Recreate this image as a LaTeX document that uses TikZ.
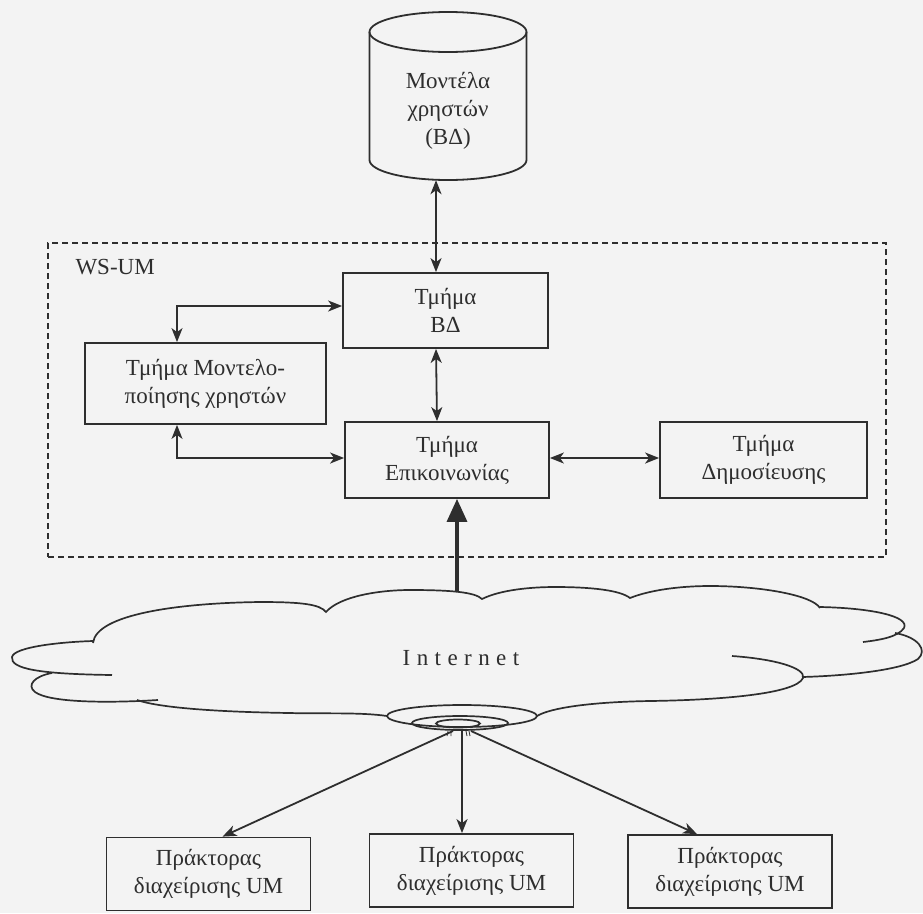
\documentclass[tikz,border=0pt]{standalone}
\usepackage{fontspec}
\setmainfont{Liberation Serif}
\usetikzlibrary{arrows.meta,calc}
\definecolor{ink}{HTML}{2E2E2E}
\definecolor{paper}{HTML}{F3F3F3}
\newcommand{\boxfont}{\fontsize{23}{28}\selectfont}
\tikzset{
  unitbox/.style={draw=ink,line width=1.8pt,align=center,inner sep=2pt,
                  font=\boxfont,text=ink},
  agentbox/.style={unitbox,minimum width=204pt,minimum height=73pt},
  groupbox/.style={draw=ink,line width=1.4pt,dash pattern=on 6pt off 4pt},
  dbline/.style={draw=ink,line width=1.8pt},
  cloudline/.style={draw=ink,line width=1.7pt},
  dbl/.style={{Stealth[length=14pt,width=11pt,inset=4pt]}-{Stealth[length=14pt,width=11pt,inset=4pt]},
              line width=1.8pt,draw=ink},
  arr/.style={-{Stealth[length=14pt,width=11pt,inset=4pt]},line width=1.8pt,draw=ink},
  thickarr/.style={-{Triangle[length=23pt,width=20pt]},line width=3.4pt,draw=ink}
}

\begin{document}
\begin{tikzpicture}[x=1pt,y=-1pt]
  \path[use as bounding box,fill=paper] (0,0) rectangle (923,913);

  % user model database
  \node[minimum width=157pt,minimum height=168pt,inner sep=0pt] (db) at (448,96) {};
  \draw[dbline] (448,32) ellipse [x radius=78.5,y radius=20];
  \draw[dbline] (369.5,32) -- (369.5,160)
    arc[start angle=180,end angle=0,x radius=78.5,y radius=20] -- (526.5,32);
  \node[font=\boxfont,align=center,text=ink] (dblabel) at (448,111)
    {Μοντέλα\\χρηστών\\(ΒΔ)};

  % WS-UM
  \node[groupbox,minimum width=838pt,minimum height=314pt] (wsum) at (467,400) {};
  \node[font=\boxfont,text=ink,anchor=west] (wslabel) at (72,267) {WS-UM};

  \node[unitbox,minimum width=205pt,minimum height=75pt] (bd) at (445.5,310.5)
    {Τμήμα\\ΒΔ};
  \node[unitbox,minimum width=241pt,minimum height=81pt] (model) at (205.5,383.5)
    {Τμήμα Μοντελο-\\ποίησης χρηστών};
  \node[unitbox,minimum width=204pt,minimum height=76pt] (comm) at (447,460)
    {Τμήμα\\Επικοινωνίας};
  \node[unitbox,minimum width=207pt,minimum height=76pt] (pub) at (763.5,460)
    {Τμήμα\\Δημοσίευσης};

  \draw[dbl] ([xshift=-12pt]db.south) -- ([xshift=-9.5pt]bd.north);
  \draw[dbl] ([xshift=-9.5pt]bd.south) -- ([xshift=-10pt]comm.north);
  \draw[dbl] ([yshift=4.5pt]bd.west) -| ([xshift=-28.5pt]model.north);
  \draw[dbl] ([xshift=-28.5pt]model.south) |- ([yshift=2pt]comm.west);
  \draw[dbl] ([yshift=2pt]comm.east) -- ([yshift=2pt]pub.west);

  % cloud
  \draw[cloudline] (93,643) .. controls (96,614) and (180,603) .. (260,602)
    .. controls (300,602) and (320,604) .. (326,612)
    .. controls (340,596) and (380,590) .. (410,590)
    .. controls (450,590) and (475,592) .. (482,599)
    .. controls (500,590) and (530,587) .. (555,587)
    .. controls (590,587) and (620,590) .. (630,598)
    .. controls (650,590) and (680,586) .. (710,586)
    .. controls (760,586) and (812,595) .. (820,608);
  \draw[cloudline] (820,607) .. controls (870,608) and (910,616) .. (904,628)
    .. controls (898,637) and (880,640) .. (863,642);
  \draw[cloudline] (895,633) .. controls (918,637) and (928,650) .. (918,659)
    .. controls (900,671) and (840,676) .. (802,677);
  \draw[cloudline] (732,656) .. controls (775,659) and (806,668) .. (803,678)
    .. controls (796,694) and (720,700) .. (650,701)
    .. controls (590,702) and (550,708) .. (537,716);
  \draw[cloudline] (387,716) .. controls (360,712) and (320,714) .. (290,713)
    .. controls (220,712) and (160,708) .. (137,700);
  \draw[cloudline] (52,673) .. controls (35,676) and (26,685) .. (35,692)
    .. controls (50,703) and (110,703) .. (158,700);
  \draw[cloudline] (93,641) .. controls (60,642) and (14,647) .. (12,657)
    .. controls (10,669) and (40,674) .. (112,675);
  \node[font=\boxfont\addfontfeatures{LetterSpace=28},text=ink] (net) at (461,658) {Internet};

  % access point
  \draw[cloudline] (462,716) ellipse [x radius=75,y radius=11];
  \draw[cloudline] (460,723) ellipse [x radius=48,y radius=7];
  \draw[cloudline] (458,723.5) ellipse [x radius=22,y radius=4];
  \draw[draw=ink,line width=0.8pt] (448,731) -- (447,736) (451,731) -- (451,736)
    (466,731) -- (467,736) (469,731) -- (470,736);
  \coordinate (cloudtop) at (457,591);
  \coordinate (hubL) at (453,731);
  \coordinate (hubM) at (462,731);
  \coordinate (hubR) at (471,731);

  \draw[thickarr] (cloudtop) -- ([xshift=10pt]comm.south);

  % agents
  \node[agentbox] (ag1) at (208.5,874) {Πράκτορας\\διαχείρισης UM};
  \node[agentbox] (ag2) at (471.5,870.5) {Πράκτορας\\διαχείρισης UM};
  \node[agentbox] (ag3) at (730,871.5) {Πράκτορας\\διαχείρισης UM};
  \draw[arr] (hubL) -- ([xshift=14pt]ag1.north);
  \draw[arr] (hubM) -- ([xshift=-9.5pt]ag2.north);
  \draw[arr] (hubR) -- ([xshift=-33pt]ag3.north);
\end{tikzpicture}
\end{document}
